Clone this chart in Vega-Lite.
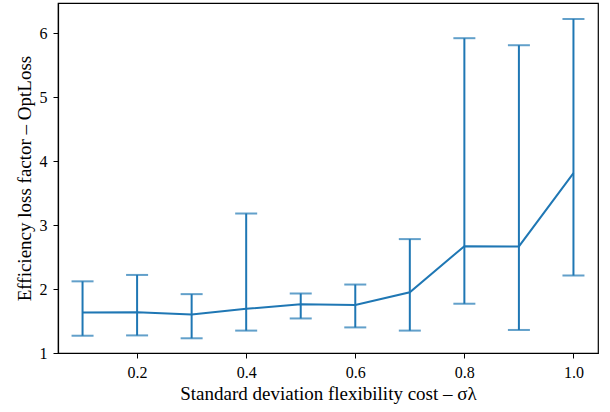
{
  "$schema": "https://vega.github.io/schema/vega-lite/v6.json",
  "autosize": "none",
  "width": 540,
  "height": 350,
  "padding": {"left": 58, "top": 3, "right": 12, "bottom": 59},
  "background": "white",
  "config": {
    "view": {"stroke": "black", "strokeWidth": 1.2},
    "axis": {
      "grid": false,
      "domainColor": "black",
      "domainWidth": 1.2,
      "tickColor": "black",
      "tickSize": 5,
      "labelFont": "Liberation Serif",
      "titleFont": "Liberation Serif",
      "labelFontSize": 16,
      "titleFontSize": 19,
      "titleFontWeight": "normal",
      "labelColor": "black",
      "titleColor": "black"
    }
  },
  "data": {
    "values": [
      {"x": 0.1, "y": 1.634, "lo": 1.27, "hi": 2.12},
      {"x": 0.2, "y": 1.635, "lo": 1.275, "hi": 2.22},
      {"x": 0.3, "y": 1.60, "lo": 1.23, "hi": 1.92},
      {"x": 0.4, "y": 1.69, "lo": 1.35, "hi": 3.18},
      {"x": 0.5, "y": 1.76, "lo": 1.54, "hi": 1.93},
      {"x": 0.6, "y": 1.75, "lo": 1.40, "hi": 2.07},
      {"x": 0.7, "y": 1.95, "lo": 1.35, "hi": 2.78},
      {"x": 0.8, "y": 2.67, "lo": 1.77, "hi": 5.92},
      {"x": 0.9, "y": 2.665, "lo": 1.36, "hi": 5.81},
      {"x": 1.0, "y": 3.81, "lo": 2.21, "hi": 6.22}
    ]
  },
  "encoding": {
    "x": {
      "field": "x",
      "type": "quantitative",
      "scale": {"domain": [0.055, 1.045], "nice": false, "zero": false},
      "axis": {"values": [0.2, 0.4, 0.6, 0.8, 1.0], "format": ".1f", "labelPadding": 6, "titlePadding": 4, "title": "Standard deviation flexibility cost – σλ"}
    }
  },
  "layer": [
    {
      "mark": {"type": "line", "color": "#1f77b4", "strokeWidth": 2},
      "encoding": {
        "y": {
          "field": "y",
          "type": "quantitative",
          "scale": {"domain": [1, 6.47], "nice": false, "zero": false},
          "axis": {"values": [1, 2, 3, 4, 5, 6], "format": "d", "labelPadding": 6, "titlePadding": 5, "title": "Efficiency loss factor – OptLoss"}
        }
      }
    },
    {
      "mark": {"type": "rule", "color": "#1f77b4", "strokeWidth": 2},
      "encoding": {
        "y": {"field": "lo", "type": "quantitative"},
        "y2": {"field": "hi"}
      }
    },
    {
      "mark": {"type": "tick", "orient": "horizontal", "color": "#1f77b4", "size": 22, "thickness": 2},
      "encoding": {"y": {"field": "lo", "type": "quantitative"}}
    },
    {
      "mark": {"type": "tick", "orient": "horizontal", "color": "#1f77b4", "size": 22, "thickness": 2},
      "encoding": {"y": {"field": "hi", "type": "quantitative"}}
    }
  ]
}
